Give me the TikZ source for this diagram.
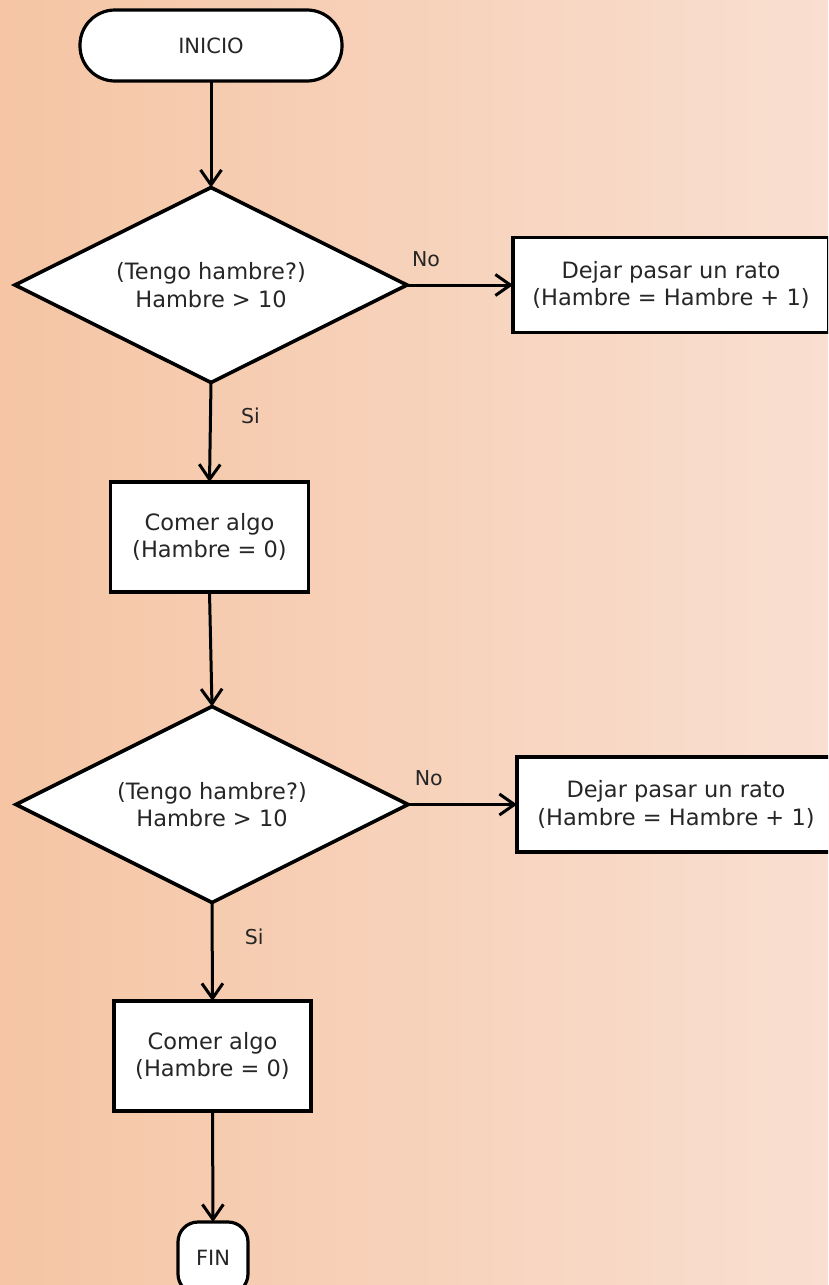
\documentclass[tikz,border=0pt]{standalone}
\usepackage{fontspec}
\setmainfont{DejaVu Sans}
\usetikzlibrary{shapes.geometric,arrows.meta}
\definecolor{bgl}{HTML}{F5C5A4}
\definecolor{bgr}{HTML}{F9DFD1}
\definecolor{txt}{HTML}{262626}
\tikzset{
  base/.style={draw=black, fill=white, line width=3.2pt, inner sep=0pt, outer sep=0pt,
    text=txt, align=center, font=\fontsize{22.5}{27.5}\selectfont},
  terminal/.style={base, rounded corners=35pt, font=\fontsize{21}{26}\selectfont},
  finbox/.style={base, rounded corners=20pt, font=\fontsize{21}{26}\selectfont},
  decision/.style={base, diamond, aspect=2, line width=3.6pt},
  process/.style={base, rectangle},
  arrow/.style={line width=3pt, -{Straight Barb[length=15pt,width=21pt]}},
  lbl/.style={text=txt, font=\fontsize{20.5}{24}\selectfont, inner sep=0pt}
}
\begin{document}
\begin{tikzpicture}[x=1pt,y=-1pt]
\useasboundingbox (0,0) rectangle (828,1285);
\clip (0,0) rectangle (828,1285);
\shade[left color=bgl, right color=bgr] (0,0) rectangle (828,1285);

\node[terminal, minimum width=262pt, minimum height=71pt] (inicio) at (211,45.5) {INICIO};
\node[decision, minimum width=392pt, minimum height=195pt] (d1) at (211,285) {(Tengo hambre?)\\Hambre > 10};
\node[process, minimum width=316pt, minimum height=95pt] (b1) at (671,285) {Dejar pasar un rato\\(Hambre = Hambre + 1)};
\node[process, minimum width=198pt, minimum height=110pt] (c1) at (209.5,537) {Comer algo\\(Hambre = 0)};
\node[decision, minimum width=392pt, minimum height=196pt] (d2) at (212,804.5) {(Tengo hambre?)\\Hambre > 10};
\node[process, minimum width=318pt, minimum height=95pt] (b2) at (676,804.5) {Dejar pasar un rato\\(Hambre = Hambre + 1)};
\node[process, minimum width=197pt, minimum height=110pt] (c2) at (212.5,1056) {Comer algo\\(Hambre = 0)};
\node[finbox, minimum width=70pt, minimum height=72pt] (fin) at (213,1258) {FIN};

\draw[arrow] (inicio.south) -- (d1.north);
\draw[arrow] (d1.east) -- node[lbl, pos=0.18, yshift=26pt] (no1) {No} (b1.west);
\draw[arrow] (d1.south) -- node[lbl, pos=0.34, xshift=40pt] (si1) {Si} (c1.north);
\draw[arrow] (c1.south) -- (d2.north);
\draw[arrow] (d2.east) -- node[lbl, pos=0.19, yshift=26pt] (no2) {No} (b2.west);
\draw[arrow] (d2.south) -- node[lbl, pos=0.35, xshift=42pt] (si2) {Si} (c2.north);
\draw[arrow] (c2.south) -- (fin.north);
\end{tikzpicture}
\end{document}
